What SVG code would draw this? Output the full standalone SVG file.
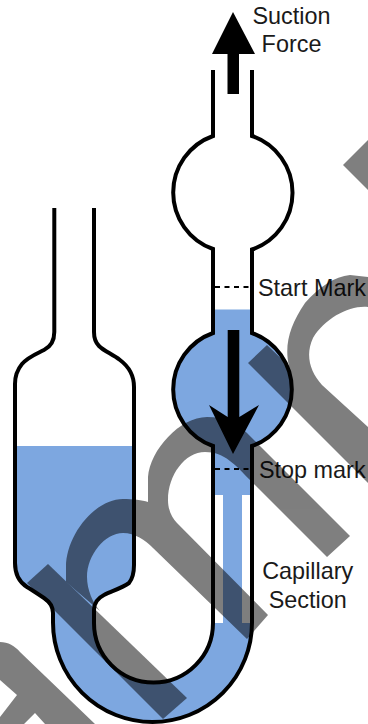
<svg xmlns="http://www.w3.org/2000/svg" width="368" height="724" viewBox="0 0 368 724">
<style>
.t{font-family:"Liberation Sans",Arial,sans-serif;font-size:23.4px;fill:#1a1a1a}
.m{text-anchor:middle}
.g{fill:none;stroke:#000;stroke-width:4}
.d{fill:none;stroke:#000;stroke-width:1.8;stroke-dasharray:5 4.5}
</style>
<defs>
<clipPath id="liq"><rect x="0" y="446" width="172" height="278"/><rect x="172" y="309.5" width="196" height="415"/></clipPath>
</defs>
<rect width="368" height="724" fill="#fff"/>
<g id="liquid">
<path clip-path="url(#liq)" fill="#7da7e0" d="M213,70 L213,136 A60,60 0 0 0 213,249 L213,333 A60,60 0 0 0 213,446 L213,623 A59.5,59.5 0 0 1 94,623 L94,610 C94,602 98,598 104,595 C112,591 122,588 129,583 C133,578 134,573 134,565 L134,387 C134,375 128,366 120,360 C112,354 104,351 99,346 C95,342 94,338 94,332 L94,208 L54.3,208 L54.3,332 C54.3,342 50,347 44,350 C36,354 28,357 22,364 C17,370 15,376 15,384 L15,563 C15,575 19,582 27,587 C32,590 38,594 44,598 C50,602 53,606 53,613 L53,622.5 A99.5,99.5 0 0 0 252,622.5 L252,446 A60,60 0 0 0 252,333 L252,249.5 A60,60 0 0 0 252,136 L252,70 Z"/>
<rect x="214" y="495" width="9" height="128" fill="#fff"/>
<rect x="242" y="495" width="9" height="128" fill="#fff"/>
</g>
<g id="viscometer">
<path class="g" d="M213,70 L213,136 A60,60 0 0 0 213,249 L213,333 A60,60 0 0 0 213,446 L213,623 A59.5,59.5 0 0 1 94,623 L94,610 C94,602 98,598 104,595 C112,591 122,588 129,583 C133,578 134,573 134,565 L134,387 C134,375 128,366 120,360 C112,354 104,351 99,346 C95,342 94,338 94,332 L94,208"/>
<path class="g" d="M54.3,208 L54.3,332 C54.3,342 50,347 44,350 C36,354 28,357 22,364 C17,370 15,376 15,384 L15,563 C15,575 19,582 27,587 C32,590 38,594 44,598 C50,602 53,606 53,613 L53,622.5 A99.5,99.5 0 0 0 252,622.5 L252,446 A60,60 0 0 0 252,333 L252,249.5 A60,60 0 0 0 252,136 L252,70"/>
</g>
<g id="marks">
<path class="d" d="M215,287 H250"/>
<path class="d" d="M215,469 H250"/>
</g>
<g id="arrows">
<polygon points="233,12 255,54 239,54 239,94 227.5,94 227.5,54 212,54"/>
<polygon points="227.7,330 239.3,330 239.3,417 259,405 233,454 209,405 227.7,417"/>
</g>
<g id="labels">
<text class="t m" x="291.5" y="24">Suction</text>
<text class="t m" x="291.5" y="52">Force</text>
<text class="t" x="258" y="296">Start Mark</text>
<text class="t" x="259" y="478">Stop mark</text>
<text class="t m" x="307.7" y="579">Capillary</text>
<text class="t m" x="307.7" y="608">Section</text>
</g>
<g id="watermark" opacity="0.5" fill="#000">
<polygon points="48,564 27,583 163,719 187,698"/>
<path d="M66,582 L66,567 C66,535 95,499 123,499 C133,499 142,500 148,502 L148,477 C150,450 180,417 207,417 C225,417 238,424 247,433 L350,536 L327,557 L250,480 C235,465 225,452 205,452 C185,452 168,475 168,500 C168,510 172,518 177,523 L268,615 L247,639 L153,548 C145,540 135,533 123,533 C105,533 87,555 87,577 C87,590 93,603 100,611 Z"/>
<path d="M248,363 L267,345 L289,366 C284,345 290,325 305,303 C318,288 335,276 350,275 L368,277 L368,307 C350,305 325,318 313,338 C305,355 310,372 322,385 L368,427 L368,483 Z"/>
<polygon points="343,165 368,140 368,190"/>
<path d="M0,642 C8,642 15,646 20,652 L95,724 L45,724 L35,713 L24,724 L0,724 L0,717 L17,695 L0,680 Z"/>
</g>
</svg>
